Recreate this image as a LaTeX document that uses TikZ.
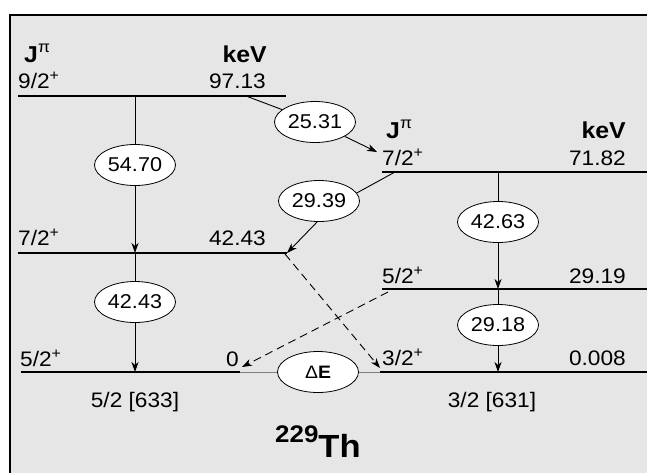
\documentclass[tikz,border=0pt]{standalone}
\usepackage{fontspec}
\setmainfont{Liberation Sans}[FakeStretch=1.08]
\usetikzlibrary{arrows.meta,shapes.geometric}
\definecolor{bggray}{HTML}{E6E6E6}
\begin{document}
\begin{tikzpicture}[x=1pt,y=-1pt,
  level/.style={line width=2.4pt},
  plain/.style={line width=0.9pt},
  trans/.style={line width=0.9pt,-{Stealth[length=10pt,width=7pt,inset=3pt]}},
  dtrans/.style={trans,dash pattern=on 8pt off 5pt},
  energy/.style={draw,ellipse,fill=white,line width=0.8pt,minimum width=81pt,minimum height=41pt,inner sep=0pt,font=\fontsize{20}{20}\selectfont},
  lab/.style={inner sep=0pt,font=\fontsize{21}{21}\selectfont},
  head/.style={inner sep=0pt,font=\fontsize{23}{23}\selectfont\bfseries},
]
\useasboundingbox (0,0) rectangle (647,472);
\draw[fill=bggray,line width=1.2pt] (10,15) rectangle (700,520);

% levels
\draw[level] (18,96) coordinate (a97) -- (286,96) coordinate (b97);
\draw[level] (18,253) coordinate (a42) -- (287,253) coordinate (b42);
\draw[level] (21,372) coordinate (a0) -- (240,372) coordinate (b0);
\draw[level] (382,172) coordinate (a71) -- (660,172) coordinate (b71);
\draw[level] (382,289) coordinate (a29) -- (660,289) coordinate (b29);
\draw[level] (380,372) coordinate (a008) -- (660,372) coordinate (b008);

% level labels
\node[head,anchor=base west] (jl) at (24,62) {J\textsuperscript{\mdseries π}};
\node[head,anchor=base east] (kl) at (267,62) {keV};
\node[lab,anchor=base west] (s97) at (18,88) {9/2\textsuperscript{+}};
\node[lab,anchor=base east] (v97) at (266,88) {97.13};
\node[lab,anchor=base west] (s42) at (18,245) {7/2\textsuperscript{+}};
\node[lab,anchor=base east] (v42) at (266,245) {42.43};
\node[lab,anchor=base west] (s0) at (20,366) {5/2\textsuperscript{+}};
\node[lab,anchor=base east] (v0) at (239,366) {0};
\node[lab,anchor=base] (n633) at (135,407) {5/2 [633]};

\node[head,anchor=base west] (jr) at (386,138) {J\textsuperscript{\mdseries π}};
\node[head,anchor=base east] (kr) at (626,138) {keV};
\node[lab,anchor=base west] (s71) at (382,165) {7/2\textsuperscript{+}};
\node[lab,anchor=base east] (v71) at (626,165) {71.82};
\node[lab,anchor=base west] (s29) at (382,283) {5/2\textsuperscript{+}};
\node[lab,anchor=base east] (v29) at (626,283) {29.19};
\node[lab,anchor=base west] (s008) at (382,365) {3/2\textsuperscript{+}};
\node[lab,anchor=base east] (v008) at (626,365) {0.008};
\node[lab,anchor=base] (n631) at (492,407) {3/2 [631]};

\node[inner sep=0pt,anchor=base west,font=\bfseries] (th) at (275,457)
  {\fontsize{24}{24}\selectfont\raisebox{15pt}{229}\fontsize{32}{32}\selectfont Th};

% transition energies
\node[energy] (e5470) at (135,165) {54.70};
\node[energy] (e4243) at (135,302) {42.43};
\node[energy] (e2531) at (315,122) {25.31};
\node[energy] (e2939) at (319,201) {29.39};
\node[energy] (e4263) at (498,222) {42.63};
\node[energy] (e2918) at (498,325) {29.18};
\node[energy,font=\fontsize{18}{18}\selectfont] (edE) at (318,372) {Δ\textbf{E}};

% connector points
\coordinate (t97) at (135,96);
\coordinate (h42) at (135,253);
\coordinate (h0) at (135,372);
\coordinate (t97b) at (246,96);
\coordinate (h71) at (377,152);
\coordinate (t71) at (395,172);
\coordinate (h42b) at (287,253);
\coordinate (t71b) at (498,172);
\coordinate (h29) at (498,289);
\coordinate (h008) at (498,372);
\coordinate (d1s) at (285,254);
\coordinate (d1e) at (380,368);
\coordinate (d2s) at (388,292);
\coordinate (d2e) at (242,367);

\draw[plain] (t97) -- (e5470);
\draw[trans] (e5470) -- (h42);
\draw[plain] (h42) -- (e4243);
\draw[trans] (e4243) -- (h0);
\draw[plain] (t97b) -- (e2531);
\draw[trans] (e2531) -- (h71);
\draw[plain] (t71) -- (e2939.12);
\draw[trans] (e2939.-95) -- (h42b);
\draw[plain] (t71b) -- (e4263);
\draw[trans] (e4263) -- (h29);
\draw[plain] (h29) -- (e2918);
\draw[trans] (e2918) -- (h008);
\draw[dtrans] (d1s) -- (d1e);
\draw[dtrans] (d2s) -- (d2e);
\draw[gray,line width=0.8pt] (b0) -- (edE) -- (a008);
\end{tikzpicture}
\end{document}
